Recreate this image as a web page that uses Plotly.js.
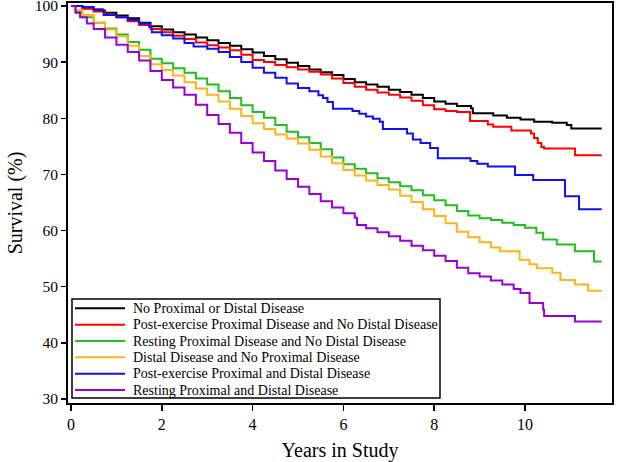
<!DOCTYPE html>
<html>
<head>
<meta charset="utf-8">
<script src="https://cdn.plot.ly/plotly-3.0.1.min.js"></script>
<style>
  body { margin: 0; background: white; }
  #km { width: 622px; height: 462px; }
</style>
</head>
<body>
<div id="km"></div>
<script>
// Kaplan-Meier survival curves (years in study vs survival %)

var t_none = [0,0.25,0.5,0.75,1,1.25,1.5,1.75,2,2.25,2.5,2.75,3,3.25,3.5,3.75,4,4.25,4.5,4.75,5,5.25,5.5,5.75,6,6.25,6.5,6.75,7,7.25,7.5,7.75,8,8.25,8.5,8.81,8.85,9.3,9.6,9.9,10.2,10.6,10.92,11.02,11.69];
var s_none = [100,99.6,99.2,98.8,98.3,97.8,97.0,96.4,95.8,95.3,94.9,94.4,93.9,93.4,92.9,92.3,91.7,91.1,90.5,89.9,89.3,88.7,88.2,87.7,87.0,86.4,86.0,85.6,85.1,84.7,84.2,83.6,83.0,82.6,82.2,81.8,80.9,80.5,80.1,79.8,79.4,79.2,78.8,78.2,78.2];

var t_postProx = [0,0.25,0.5,0.75,1,1.25,1.5,1.75,2,2.25,2.5,2.75,3,3.25,3.5,3.75,4,4.25,4.5,4.75,5,5.25,5.5,5.75,6,6.25,6.5,6.75,7,7.25,7.5,7.75,8,8.25,8.5,8.79,9.18,9.3,9.7,10.13,10.2,10.28,10.36,10.42,11.1,11.69];
var s_postProx = [100,99.5,99.0,98.5,98.0,97.3,96.6,95.9,95.3,94.7,94.1,93.5,93.0,92.6,92.1,91.3,90.4,90.0,89.5,89.1,88.7,88.3,87.8,87.1,86.3,85.6,85.1,84.6,84.2,83.7,83.1,82.3,81.6,81.3,81.1,79.5,78.9,78.5,77.8,77.3,76.5,75.6,74.9,74.6,73.4,73.4];

var t_restProx = [0,0.1,0.25,0.5,0.75,1,1.25,1.5,1.75,2,2.25,2.5,2.75,3,3.25,3.5,3.75,4,4.25,4.5,4.75,5,5.25,5.5,5.75,6,6.25,6.5,6.75,7,7.25,7.5,7.75,8,8.25,8.5,8.75,9,9.25,9.5,9.75,10,10.25,10.4,10.7,11.1,11.52,11.69];
var s_restProx = [100,99.0,98.0,97.0,96.0,94.9,93.6,92.2,90.6,89.8,88.9,88.1,87.1,86.0,84.8,83.6,82.3,81.1,80.1,78.8,77.6,76.6,75.6,74.5,73.0,71.8,71.0,70.2,69.3,68.6,67.9,67.2,66.3,65.4,64.5,63.5,62.7,62.2,61.9,61.4,61.0,60.5,59.6,58.4,57.5,56.3,54.5,54.5];

var t_distal = [0,0.1,0.25,0.5,0.75,1,1.25,1.5,1.75,2,2.25,2.5,2.75,3,3.25,3.5,3.75,4,4.25,4.5,4.75,5,5.25,5.5,5.75,6,6.25,6.5,6.75,7,7.25,7.5,7.75,8,8.25,8.5,8.75,9,9.25,9.45,9.88,10.1,10.26,10.6,10.78,11.1,11.39,11.69];
var s_distal = [100,99.3,98.4,97.0,95.8,94.6,92.9,91.1,89.6,88.6,87.6,86.4,85.3,84.2,83.0,81.7,80.4,79.1,78.1,77.1,76.4,75.5,74.4,73.2,72.0,70.8,69.8,68.9,68.1,67.3,66.2,65.1,63.8,62.6,61.3,59.8,58.8,57.9,57.0,56.3,54.8,54.0,53.3,52.5,51.2,50.4,49.3,49.3];

var t_postBoth = [0,0.25,0.5,0.7,0.72,1,1.25,1.5,1.72,1.78,2,2.25,2.5,2.7,3,3.25,3.5,3.75,4,4.25,4.5,4.75,5,5.25,5.45,5.55,5.65,5.77,6.2,6.35,6.5,6.65,6.8,6.87,7.4,7.53,7.7,7.91,8.08,8.8,8.95,9.18,9.78,10.18,10.88,11.19,11.69];
var s_postBoth = [100,99.8,99.4,99.0,98.4,98.0,97.5,96.9,96.3,95.3,94.8,94.2,93.4,92.8,92.4,91.8,90.9,90.0,89.0,88.1,87.2,86.2,85.4,84.8,84.1,83.6,82.9,81.7,81.3,80.8,80.3,79.9,79.4,78.1,77.3,76.2,75.6,74.7,72.9,72.4,71.9,71.4,69.9,69.0,66.1,63.8,63.8];

var t_restBoth = [0,0.1,0.2,0.35,0.5,0.75,1,1.25,1.5,1.75,2,2.25,2.5,2.75,3,3.25,3.5,3.75,4,4.25,4.5,4.75,5,5.25,5.5,5.75,6,6.25,6.3,6.5,6.75,7,7.25,7.5,7.75,8,8.25,8.5,8.75,9,9.25,9.5,9.75,9.9,10.1,10.4,10.42,11.1,11.69];
var s_restBoth = [100,98.8,98.0,96.9,95.9,94.4,93.1,91.8,90.3,88.4,86.8,85.5,84.2,82.4,80.6,79.0,77.4,75.6,73.9,72.4,70.7,69.2,67.8,66.5,65.2,64.1,63.1,62.3,61.0,60.4,59.7,59.0,58.2,57.3,56.5,55.5,54.6,53.4,52.4,51.8,51.1,50.4,49.6,48.9,47.1,45.9,44.8,43.8,43.8];

var names = [
  'No Proximal or Distal Disease',
  'Post-exercise Proximal Disease and No Distal Disease',
  'Resting Proximal Disease and No Distal Disease',
  'Distal Disease and No Proximal Disease',
  'Post-exercise Proximal and Distal Disease',
  'Resting Proximal and Distal Disease'
];
var colors = ['#000000', '#ff0000', '#1fbf1f', '#ffb319', '#1010f0', '#9a00d6'];

var times = [t_none, t_postProx, t_restProx, t_distal, t_postBoth, t_restBoth];
var surv = [s_none, s_postProx, s_restProx, s_distal, s_postBoth, s_restBoth];

var serif = 'Liberation Serif';

var data = [];
for (var i = 0; i < names.length; i++) {
  data.push({
    x: times[i],
    y: surv[i],
    type: 'scatter',
    mode: 'lines',
    name: names[i],
    line: {color: colors[i], width: 2, shape: 'hv'},
    showlegend: false
  });
}

// plot area in pixels: x 68..612, y 3..403
function pxX(p) { return (p - 68) / 544; }
function pxY(p) { return (403 - p) / 400; }

// hand-built legend box (plotly's own legend rows are too tall here)
var shapes = [{
  type: 'rect', xref: 'paper', yref: 'paper',
  x0: pxX(72), x1: pxX(440), y0: pxY(398), y1: pxY(299),
  line: {color: 'black', width: 1.5}, fillcolor: 'white'
}];
var annotations = [];
for (var i = 0; i < names.length; i++) {
  var rowY = 308.3 + i * 16.35;
  shapes.push({
    type: 'line', xref: 'paper', yref: 'paper',
    x0: pxX(75), x1: pxX(125), y0: pxY(rowY), y1: pxY(rowY),
    line: {color: colors[i], width: 2}
  });
  annotations.push({
    xref: 'paper', yref: 'paper',
    x: pxX(131), y: pxY(rowY),
    xanchor: 'left', yanchor: 'middle',
    text: names[i], showarrow: false,
    font: {family: serif, size: 14, color: 'black'}
  });
}

var layout = {
  width: 622,
  height: 462,
  margin: {l: 68, r: 10, t: 3, b: 59},
  paper_bgcolor: 'white',
  plot_bgcolor: 'white',
  showlegend: false,
  font: {family: serif, color: 'black', size: 16},
  xaxis: {
    range: [-0.066, 11.916],
    tickvals: [0, 2, 4, 6, 8, 10],
    ticks: 'outside', ticklen: 6, tickwidth: 1.5, tickcolor: 'black',
    tickfont: {family: serif, size: 16, color: 'black'},
    showline: true, mirror: true, linecolor: 'black', linewidth: 2,
    showgrid: false, zeroline: false,
    title: {text: 'Years in Study', font: {family: serif, size: 20, color: 'black'}, standoff: 14}
  },
  yaxis: {
    range: [29.29, 100.53],
    tickvals: [30, 40, 50, 60, 70, 80, 90, 100],
    ticks: 'outside', ticklen: 5, tickwidth: 1.5, tickcolor: 'black',
    tickfont: {family: serif, size: 15.5, color: 'black'},
    ticklabeloverflow: 'allow',
    showline: true, mirror: true, linecolor: 'black', linewidth: 2,
    showgrid: false, zeroline: false,
    title: {text: 'Survival (%)', font: {family: serif, size: 20, color: 'black'}, standoff: 7}
  },
  shapes: shapes,
  annotations: annotations
};

Plotly.newPlot('km', data, layout, {displayModeBar: false, staticPlot: true});
</script>
</body>
</html>
